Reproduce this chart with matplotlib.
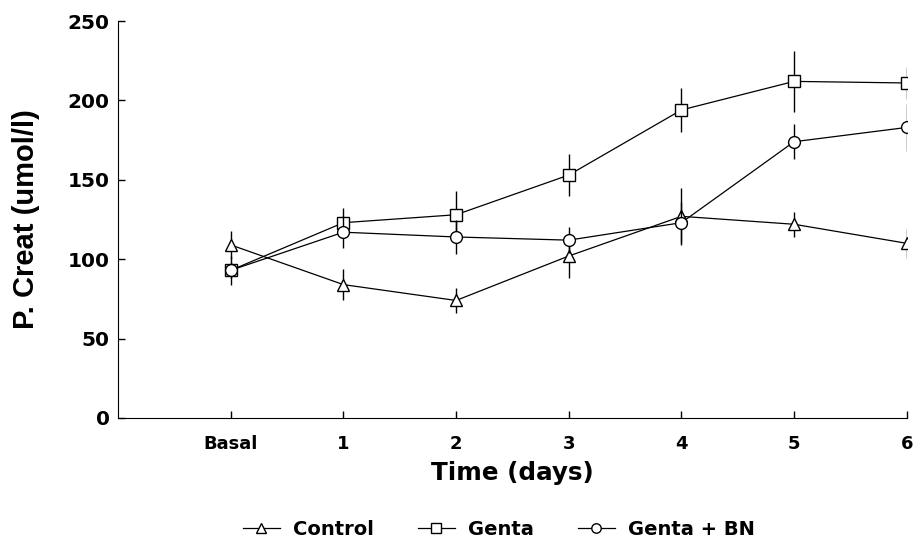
import numpy as np
import matplotlib
matplotlib.use('Agg')
import matplotlib.pyplot as plt

plt.rcParams['font.family'] = ['DejaVu Sans']
plt.rcParams['font.weight'] = 'bold'

# data
days = ['Basal', '1', '2', '3', '4', '5', '6']
control = [109, 84, 74, 102, 127, 122, 110]
control_err = [9, 10, 8, 14, 18, 8, 9]
genta = [93, 123, 128, 153, 194, 212, 211]
genta_err = [5, 9, 15, 13, 14, 19, 10]
genta_bn = [93, 117, 114, 112, 123, 174, 183]
genta_bn_err = [9, 10, 11, 8, 13, 11, 15]

x = np.arange(len(days))

fig = plt.figure(figsize=(9.15, 5.4), dpi=100)
ax = fig.add_axes([0.129, 0.226, 0.862, 0.735])

series = [
    ('Control', control, control_err, '^'),
    ('Genta', genta, genta_err, 's'),
    ('Genta + BN', genta_bn, genta_bn_err, 'o'),
]
for name, vals, err, mk in series:
    ax.errorbar(x, vals, yerr=err, fmt='none', ecolor='black', elinewidth=1.0, capsize=0)
    ax.plot(x, vals, color='black', lw=0.9, marker=mk, markersize=8.5,
            markerfacecolor='white', markeredgecolor='black', markeredgewidth=1.0,
            label=name)

ax.set_xlim(-1, 6)
ax.set_ylim(0, 250)
ax.set_xticks(x)
ax.set_xticklabels(days, fontsize=13, fontweight='bold')
ax.set_yticks([0, 50, 100, 150, 200, 250])
ax.set_yticklabels(['0', '50', '100', '150', '200', '250'], fontsize=14.5, fontweight='bold')
ax.tick_params(direction='in', length=5, width=1)
ax.tick_params(axis='x', pad=12)
ax.tick_params(axis='y', pad=6)
ax.spines['top'].set_visible(False)
ax.spines['right'].set_visible(False)
ax.set_xlabel('Time (days)', fontsize=17.7, fontweight='bold', labelpad=6)
ax.set_ylabel('P. Creat (umol/l)', fontsize=21, fontweight='bold',
              family='Liberation Sans', labelpad=20)

fig.legend(loc='center', bbox_to_anchor=(0.545, 0.02), ncol=3, frameon=False,
           fontsize=14, handlelength=1.9, handletextpad=0.67, columnspacing=2.27,
           markerscale=0.8, borderpad=0)

fig.savefig('out.png', dpi=100)
